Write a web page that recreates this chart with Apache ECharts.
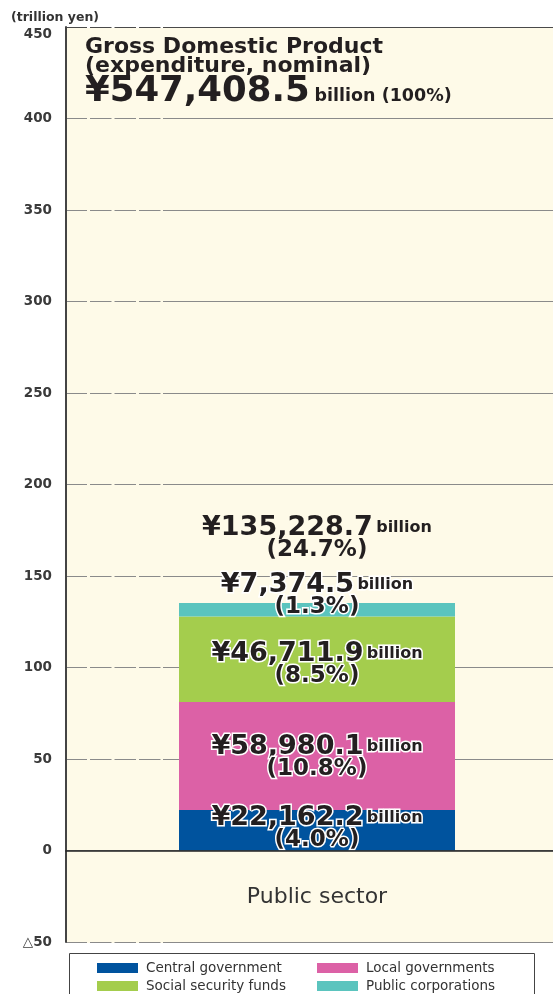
<!DOCTYPE html>
<html>
<head>
<meta charset="utf-8">
<script src="https://cdn.jsdelivr.net/npm/echarts@6/dist/echarts.min.js"></script>
<style>
  html, body { margin: 0; padding: 0; background: #fff; }
  #chart { width: 553px; height: 994px; }
</style>
</head>
<body>
<div id="chart"></div>
<script>
// values in billion yen, shares in % of GDP
const CATEGORY = ['Public sector'];
const SECTORS = ['Central government', 'Local governments', 'Social security funds', 'Public corporations'];
const VALUES_BN = [22162.2, 58980.1, 46711.9, 7374.5];
const SHARES = [4.0, 10.8, 8.5, 1.3];
const TOTAL_BN = 135228.7;
const TOTAL_SHARE = 24.7;
const GDP_BN = 547408.5;
const Y_TICKS = [-50, 0, 50, 100, 150, 200, 250, 300, 350, 400, 450];

const COLORS = ['#00539e', '#dc61a6', '#a4cd4d', '#5bc4be'];
const INK = '#231f20';
const CREAM = '#fefae8';
const FONT = 'DejaVu Sans';

const fmt = v => v.toLocaleString('en-US', { minimumFractionDigits: 1, maximumFractionDigits: 1 });
const labelRich = {
  v: { fontFamily: FONT, fontWeight: 'bold', fontSize: 27, lineHeight: 22, color: INK },
  b: { fontFamily: FONT, fontWeight: 'bold', fontSize: 16, lineHeight: 22, color: INK },
  p: { fontFamily: FONT, fontWeight: 'bold', fontSize: 23, lineHeight: 22, color: INK },
};
const labelText = (v, s) => `{v|¥${fmt(v)}} {b|billion}\n{p|(${s.toFixed(1)}%)}`;

const LABEL_POS = [
  { position: 'inside', offset: [0, -1] },
  { position: 'inside', offset: [0, 2] },
  { position: 'inside', offset: [0, 6] },
  { position: 'top', distance: -15 },
];

// legend slots: [left, top] for each sector, two columns
const LEGEND_SLOTS = [[97, 961], [317, 961], [97, 979], [317, 979]];

const chart = echarts.init(document.getElementById('chart'));

const Y_RANGE = { type: 'value', min: -50, max: 450, interval: 50 };

const barSeries = SECTORS.map((name, i) => ({
  name,
  type: 'bar',
  xAxisIndex: 1, yAxisIndex: 1,
  stack: 'public',
  barWidth: 276,
  data: [VALUES_BN[i] / 1000],
  itemStyle: { color: COLORS[i] },
  label: {
    show: true,
    ...LABEL_POS[i],
    formatter: () => labelText(VALUES_BN[i], SHARES[i]),
    rich: labelRich,
    textBorderColor: '#fff',
    textBorderWidth: 3,
  },
  emphasis: { disabled: true },
}));

const gridColors = Y_TICKS.map(t => t === 450 ? '#4a4a4a' : '#8a8a8a');
// small breaks near the axis on every grid line except zero
const gapColors = Y_TICKS.map(t => t === 0 ? 'rgba(0,0,0,0)' : (t === 450 ? '#fff' : CREAM));

chart.setOption({
  backgroundColor: '#fff',
  animation: false,
  title: [
    {
      text: '(trillion yen)',
      left: 11, top: 11, padding: 0,
      textStyle: { fontFamily: FONT, fontWeight: 'bold', fontSize: 12.5, color: '#333' },
    },
    {
      text: '{a|Gross Domestic Product}\n{a|(expenditure, nominal)}\n{v|¥' + fmt(GDP_BN) + '} {b|billion (100%)}',
      left: 85, top: 38, padding: 0,
      textStyle: {
        rich: {
          a: { fontFamily: FONT, fontWeight: 'bold', fontSize: 22, lineHeight: 19, color: INK },
          v: { fontFamily: FONT, fontWeight: 'bold', fontSize: 35.5, lineHeight: 32, color: INK },
          b: { fontFamily: FONT, fontWeight: 'bold', fontSize: 17.5, lineHeight: 32, color: INK, padding: [8, 0, 0, 0] },
        },
      },
    },
  ],
  legend: SECTORS.map((name, i) => ({
    left: LEGEND_SLOTS[i][0], top: LEGEND_SLOTS[i][1], padding: 0,
    itemWidth: 41, itemHeight: 10,
    icon: 'rect',
    data: [name],
    textStyle: { fontFamily: FONT, fontSize: 13.5, color: '#333', padding: [0, 0, 0, 3] },
    selectedMode: false,
  })),
  graphic: [{
    type: 'rect',
    shape: { x: 69.5, y: 953.5, width: 465, height: 60 },
    style: { fill: 'none', stroke: '#444', lineWidth: 1 },
    z: 0,
  }],
  grid: [
    // frame: background, value axis, grid lines, zero line
    { left: 66, right: 0, top: 27, bottom: 52, show: true, backgroundColor: CREAM, borderWidth: 0 },
    // bar area, centred where the bar sits in the original
    { left: 81, right: 0, top: 27, bottom: 52, show: false },
    // short breaks in the grid lines next to the axis
    { left: 87, width: 76, top: 27, bottom: 52, show: false },
  ],
  xAxis: [
    {
      type: 'category',
      data: CATEGORY,
      axisTick: { show: false },
      axisLabel: { show: false },
      axisLine: { onZero: true, lineStyle: { color: '#222', width: 1.5 } },
      z: 4,
    },
    {
      type: 'category',
      gridIndex: 1,
      data: CATEGORY,
      axisTick: { show: false },
      axisLine: { show: false },
      axisLabel: { margin: -56, fontFamily: FONT, fontSize: 22, color: '#333' },
    },
    { type: 'value', gridIndex: 2, show: false, min: 0, max: 1 },
  ],
  yAxis: [
    {
      ...Y_RANGE,
      axisLine: { show: true, lineStyle: { color: '#444', width: 2 } },
      axisTick: { show: false },
      axisLabel: {
        margin: 14,
        fontFamily: FONT, fontWeight: 'bold', fontSize: 13.5, color: '#3a3a3a',
        formatter: v => v < 0 ? '△' + (-v) : (v === 450 ? '{t|450}' : String(v)),
        rich: { t: { fontFamily: FONT, fontWeight: 'bold', fontSize: 13.5, color: '#3a3a3a', padding: [14, 0, 0, 0] } },
      },
      splitLine: { show: true, lineStyle: { color: gridColors, width: 1.2 } },
    },
    {
      ...Y_RANGE,
      gridIndex: 1,
      show: false,
      splitLine: { show: false },
    },
    {
      ...Y_RANGE,
      gridIndex: 2,
      axisLine: { show: false }, axisTick: { show: false }, axisLabel: { show: false },
      splitLine: { show: true, lineStyle: { color: gapColors, width: 2, type: [3, 21.5] } },
      z: 3,
    },
  ],
  series: [
    ...barSeries,
    {
      name: 'Total',
      type: 'scatter',
      xAxisIndex: 1, yAxisIndex: 1,
      data: [TOTAL_BN / 1000],
      symbolSize: 0,
      itemStyle: { opacity: 1, color: 'transparent' },
      z: 5,
      label: {
        show: true,
        position: 'top',
        distance: 42,
        formatter: () => labelText(TOTAL_BN, TOTAL_SHARE),
        rich: labelRich,
      },
      emphasis: { disabled: true },
    },
  ],
});
</script>
</body>
</html>
